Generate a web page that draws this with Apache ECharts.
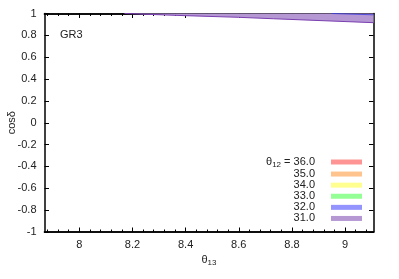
<!DOCTYPE html>
<html>
<head>
<meta charset="utf-8">
<script src="https://cdn.jsdelivr.net/npm/echarts@6/dist/echarts.min.js"></script>
<style>html,body{margin:0;padding:0;background:#fff;}#c{width:399px;height:279px;}</style>
</head>
<body>
<div id="c"></div>
<script>
// ---- data ----
const theta12Labels = ['36.0', '35.0', '34.0', '33.0', '32.0', '31.0'];
const xTickLabels = [8, 8.2, 8.4, 8.6, 8.8, 9];
const yTickLabels = [-1, -0.8, -0.6, -0.4, -0.2, 0, 0.2, 0.4, 0.6, 0.8, 1];
// theta12 = 31.0 band: lower edge of allowed cos(delta) (upper edge at 1)
const theta13_31 = [8.17, 8.40, 8.60, 8.73, 9.107];
const cosLower_31 = [1.0, 0.980, 0.965, 0.952, 0.916];
// theta12 = 32.0 band
const theta13_32 = [8.95, 9.107];
const cosLower_32 = [1.0, 0.988];
// theta12 = 33..36: no visible region
const xMin = 7.869, xMax = 9.107;

const colors = ['#ff9494', '#ffc48e', '#ffff90', '#94ff94', '#9494ff', '#b497d3'];
const minorX = [];
for (let i = 0; i <= 40; i++) { const v = +(7.88 + i * 0.04).toFixed(2); if (v <= xMax) minorX.push(v); }

const chart = echarts.init(document.getElementById('c'), null, {renderer: 'canvas'});
const font = 'Liberation Sans, Arial, sans-serif';
const tickStyle = {color: '#000', width: 1};

function xAxisDef(pos, ticks, len, labels) {
  return {
    type: 'value', min: xMin, max: xMax, position: pos,
    axisLine: {show: true, onZero: false, lineStyle: {color: '#000', width: 1.5}},
    axisTick: {show: true, inside: true, length: len, customValues: ticks, lineStyle: tickStyle},
    axisLabel: labels ? {show: true, customValues: xTickLabels, margin: 7, color: '#222', fontSize: 11, fontFamily: font,
      formatter: v => String(+v.toFixed(1))} : {show: false},
    splitLine: {show: false},
    name: labels ? '{a|θ}{s|13}' : '', nameLocation: 'middle', nameGap: 22, nameMoveOverlap: false,
    nameTextStyle: {rich: {a: {fontSize: 11, fontFamily: font, color: '#222', lineHeight: 12},
      s: {fontSize: 8, fontFamily: font, color: '#222', lineHeight: 7, padding: [5, 0, 0, 0]}}}
  };
}

const series = theta12Labels.map((lab, i) => ({
  name: lab, type: 'line', xAxisIndex: 0, yAxisIndex: 0, data: [], symbol: 'none',
  itemStyle: {color: colors[i]}, lineStyle: {width: 0}
}));
series[4].data = theta13_32.map((t, k) => [t, cosLower_32[k]]);
series[4].areaStyle = {origin: 'end', color: '#6a6af0', opacity: 1};
series[4].lineStyle = {width: 0.8, color: '#3a3ae0'};
series[5].data = theta13_31.map((t, k) => [t, cosLower_31[k]]);
series[5].areaStyle = {origin: 'end', color: '#b497d3', opacity: 1};
series[5].lineStyle = {width: 1, color: '#7a3fb0'};
series[5].z = 1;
series[4].z = 2;

chart.setOption({
  animation: false,
  backgroundColor: '#fff',
  grid: {left: 44.5, right: 25.5, top: 13.5, bottom: 47, containLabel: false, outerBoundsMode: 'none'},
  xAxis: [
    xAxisDef('bottom', xTickLabels, 4.5, true),
    xAxisDef('bottom', minorX, 2.5, false),
    xAxisDef('top', xTickLabels, 4.5, false),
    xAxisDef('top', minorX, 2.5, false)
  ],
  yAxis: [
    {type: 'value', min: -1, max: 1, interval: 0.2, position: 'left',
      axisLine: {show: true, lineStyle: {color: '#000', width: 1.5}},
      axisTick: {show: true, inside: true, length: 4.5, lineStyle: tickStyle},
      axisLabel: {margin: 8, color: '#222', fontSize: 11, fontFamily: font, formatter: v => String(+v.toFixed(1))},
      splitLine: {show: false},
      name: 'cosδ', nameLocation: 'middle', nameGap: 27, nameRotate: 90, nameMoveOverlap: false,
      nameTextStyle: {fontSize: 11, fontFamily: font, color: '#222'}},
    {type: 'value', min: -1, max: 1, interval: 0.2, position: 'right',
      axisLine: {show: true, lineStyle: {color: '#000', width: 1.5}},
      axisTick: {show: true, inside: true, length: 4.5, lineStyle: tickStyle},
      axisLabel: {show: false}, splitLine: {show: false}}
  ],
  legend: {
    orient: 'vertical', right: 37, top: 155.5, align: 'right', padding: 0,
    itemWidth: 31, itemHeight: 5, itemGap: 0, icon: 'rect',
    data: theta12Labels.map((lab, i) => ({name: lab, itemStyle: {color: colors[i], opacity: 1}})),
    formatter: name => name === theta12Labels[0] ? '{a|θ}{s|12}{b| = ' + name + '}' : '{b|' + name + '}',
    textStyle: {fontSize: 11, fontFamily: font, color: '#222', lineHeight: 11.1,
      rich: {a: {fontSize: 11, fontFamily: font, color: '#222', lineHeight: 11.1},
             b: {fontSize: 11, fontFamily: font, color: '#222', lineHeight: 11.1, padding: [0, 11, 0, 0]},
             s: {fontSize: 8, fontFamily: font, color: '#222', lineHeight: 6.1, padding: [5, 0, 0, 0]}}}
  },
  graphic: [{type: 'text', left: 60, top: 29, style: {text: 'GR3', fontSize: 11, fontFamily: font, fill: '#222'}}],
  series: series
});
</script>
</body>
</html>
